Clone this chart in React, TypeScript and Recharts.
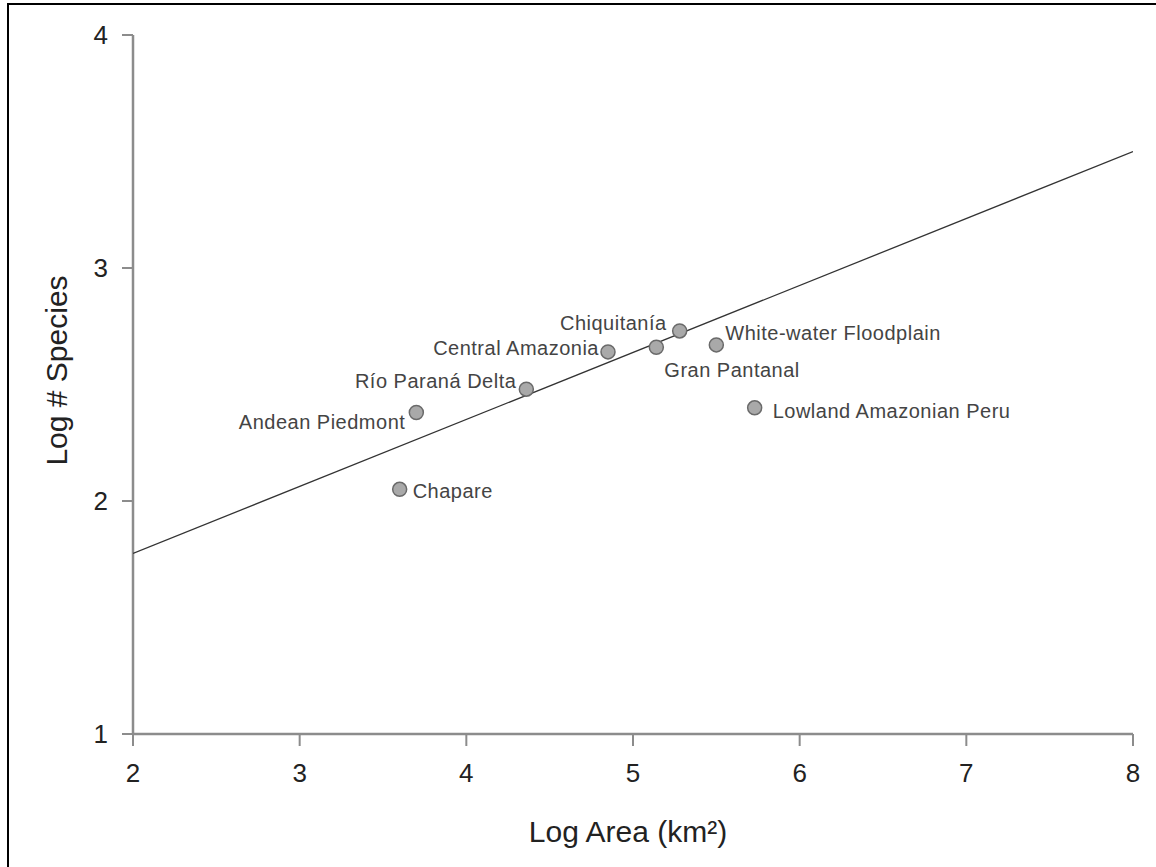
import { ScatterChart, Scatter, XAxis, YAxis, Label } from "recharts";

const siteNames = [
  "Chapare",
  "Andean Piedmont",
  "Río Paraná Delta",
  "Central Amazonia",
  "Gran Pantanal",
  "Chiquitanía",
  "White-water Floodplain",
  "Lowland Amazonian Peru",
];
const logArea = [3.6, 3.7, 4.36, 4.85, 5.14, 5.28, 5.5, 5.73];
const logSpecies = [2.05, 2.38, 2.48, 2.64, 2.66, 2.73, 2.67, 2.4];

const fitX = [2, 8];
const fitY = [1.775, 3.5];

const xTicks = [2, 3, 4, 5, 6, 7, 8];
const yTicks = [1, 2, 3, 4];

// label placement around each dot
const labelPos: Record<string, { dx: number; dy: number; anchor: "start" | "end" }> = {
  Chapare: { dx: 13, dy: 2, anchor: "start" },
  "Andean Piedmont": { dx: -11, dy: 10, anchor: "end" },
  "Río Paraná Delta": { dx: -10, dy: -8, anchor: "end" },
  "Central Amazonia": { dx: -9, dy: -4, anchor: "end" },
  "Gran Pantanal": { dx: 8, dy: 23, anchor: "start" },
  "Chiquitanía": { dx: -13, dy: -8, anchor: "end" },
  "White-water Floodplain": { dx: 9, dy: -12, anchor: "start" },
  "Lowland Amazonian Peru": { dx: 18, dy: 3, anchor: "start" },
};

const sites = siteNames.map((name, i) => ({ name, x: logArea[i], y: logSpecies[i] }));
const fit = fitX.map((x, i) => ({ x, y: fitY[i] }));

const FONT = '"Liberation Sans", Arial, sans-serif';
const AXIS = "#8c8c8c";

function SiteDot(props: any) {
  const { cx, cy, payload } = props;
  const p = labelPos[payload.name];
  return (
    <g>
      <circle cx={cx} cy={cy} r={7} fill="#a9a9a9" stroke="#6a6a6a" strokeWidth={1.5} />
      <text
        x={cx + p.dx}
        y={cy + p.dy}
        textAnchor={p.anchor}
        dominantBaseline="central"
        fontSize={20}
        letterSpacing={0.5}
        fontFamily={FONT}
        fill="#444"
      >
        {payload.name}
      </text>
    </g>
  );
}

export default function App() {
  return (
    <div style={{ position: "fixed", left: 0, top: 0, width: 1156, height: 867, background: "#fff", overflow: "hidden" }}>
      <div
        style={{
          position: "absolute",
          left: 7,
          top: 3,
          width: 1200,
          height: 900,
          borderTop: "2px solid #000",
          borderLeft: "2px solid #000",
        }}
      />
      <div style={{ position: "absolute", left: 0, top: 0 }}>
        <ScatterChart width={1156} height={867} margin={{ top: 35, right: 23, bottom: 0, left: 0 }}>
          <XAxis
            type="number"
            dataKey="x"
            domain={[2, 8]}
            ticks={xTicks}
            allowDataOverflow
            height={133}
            tickSize={12}
            tickMargin={18}
            axisLine={{ stroke: AXIS, strokeWidth: 2.5 }}
            tickLine={{ stroke: AXIS, strokeWidth: 2 }}
            tick={{ fill: "#222", fontSize: 26, fontFamily: FONT }}
          >
            <Label
              content={(props: any) => {
                const vb = props.viewBox;
                return (
                  <text
                    x={vb.x + vb.width / 2 - 5}
                    y={vb.y + 108}
                    textAnchor="middle"
                    fontSize={30}
                    fontFamily={FONT}
                    fill="#222"
                  >
                    Log Area (km²)
                  </text>
                );
              }}
            />
          </XAxis>
          <XAxis
            xAxisId="top"
            orientation="top"
            type="number"
            domain={[2, 8]}
            height={0}
            tick={false}
            tickLine={false}
            axisLine={{ stroke: AXIS, strokeWidth: 2.5 }}
          />
          <YAxis
            type="number"
            dataKey="y"
            domain={[1, 4]}
            ticks={yTicks}
            allowDataOverflow
            width={133}
            tickSize={11}
            tickMargin={14}
            axisLine={{ stroke: AXIS, strokeWidth: 2.5 }}
            tickLine={{ stroke: AXIS, strokeWidth: 2 }}
            tick={{ fill: "#222", fontSize: 26, fontFamily: FONT }}
          >
            <Label
              content={(props: any) => {
                const vb = props.viewBox;
                const cx = 56;
                const cy = vb.y + vb.height / 2 - 14;
                return (
                  <text
                    x={cx}
                    y={cy}
                    transform={`rotate(-90 ${cx} ${cy})`}
                    textAnchor="middle"
                    dominantBaseline="central"
                    fontSize={30}
                    fontFamily={FONT}
                    fill="#222"
                  >
                    Log # Species
                  </text>
                );
              }}
            />
          </YAxis>
          <YAxis
            yAxisId="right"
            orientation="right"
            type="number"
            domain={[1, 4]}
            width={0}
            tick={false}
            tickLine={false}
            axisLine={{ stroke: AXIS, strokeWidth: 2.5 }}
          />
          <Scatter
            data={fit}
            line={{ stroke: "#333", strokeWidth: 1.3 }}
            shape={() => <g />}
            isAnimationActive={false}
          />
          <Scatter data={sites} shape={SiteDot} isAnimationActive={false} />
        </ScatterChart>
      </div>
    </div>
  );
}
